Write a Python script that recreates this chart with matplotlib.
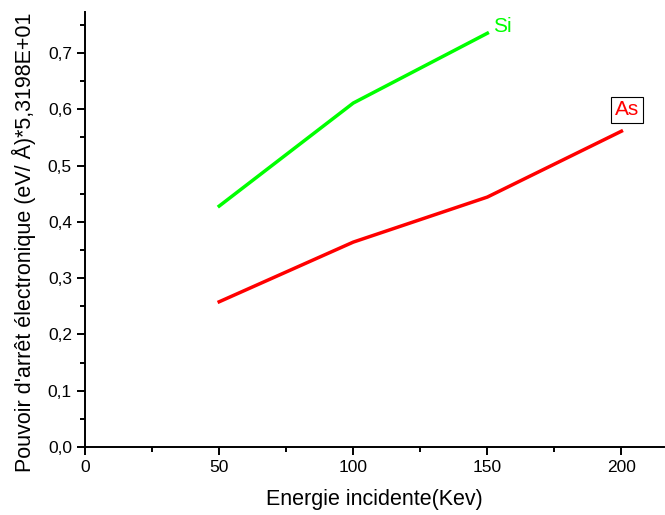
import matplotlib.pyplot as plt
from matplotlib.ticker import FuncFormatter, MultipleLocator

plt.rcParams['font.family'] = ['Liberation Sans', 'DejaVu Sans']

energie = [50, 100, 150, 200]
si_x = [50, 100, 150]
si_y = [0.428, 0.611, 0.735]
as_y = [0.258, 0.364, 0.444, 0.561]

fig = plt.figure(figsize=(6.65, 5.15), dpi=100)
ax = fig.add_axes([0.128, 0.132, 0.871, 0.845])

ax.plot(si_x, si_y, color='#00ff00', linewidth=2.5)
ax.plot(energie, as_y, color='#ff0000', linewidth=2.5)

ax.text(152, si_y[-1] + 0.012, 'Si', color='#00ff00', fontsize=15, va='center', ha='left')
ax.text(202, as_y[-1] + 0.038, 'As', color='#ff0000', fontsize=15, va='center', ha='center',
        bbox=dict(facecolor='white', edgecolor='black', linewidth=0.8, boxstyle='square,pad=0.18'))

ax.set_xlim(0, 216)
ax.set_ylim(0, 0.773)
ax.xaxis.set_major_locator(MultipleLocator(50))
ax.xaxis.set_minor_locator(MultipleLocator(25))
ax.yaxis.set_major_locator(MultipleLocator(0.1))
ax.yaxis.set_minor_locator(MultipleLocator(0.05))
ax.yaxis.set_major_formatter(FuncFormatter(lambda v, p: f'{v:.1f}'.replace('.', ',')))

for s in ['top', 'right']:
    ax.spines[s].set_visible(False)
for s in ['left', 'bottom']:
    ax.spines[s].set_linewidth(1.4)
ax.tick_params(which='major', direction='out', length=6, width=1.4, labelsize=12.5)
ax.tick_params(which='minor', direction='out', length=3.5, width=1.4)

ax.set_xlabel('Energie incidente(Kev)', fontsize=15.5, labelpad=10)
ax.set_ylabel("Pouvoir d'arrêt électronique (eV/ Å)*5,3198E+01", fontsize=15.5)
ax.yaxis.set_label_coords(-0.085, 0.47)

plt.savefig('out.png', dpi=100)
